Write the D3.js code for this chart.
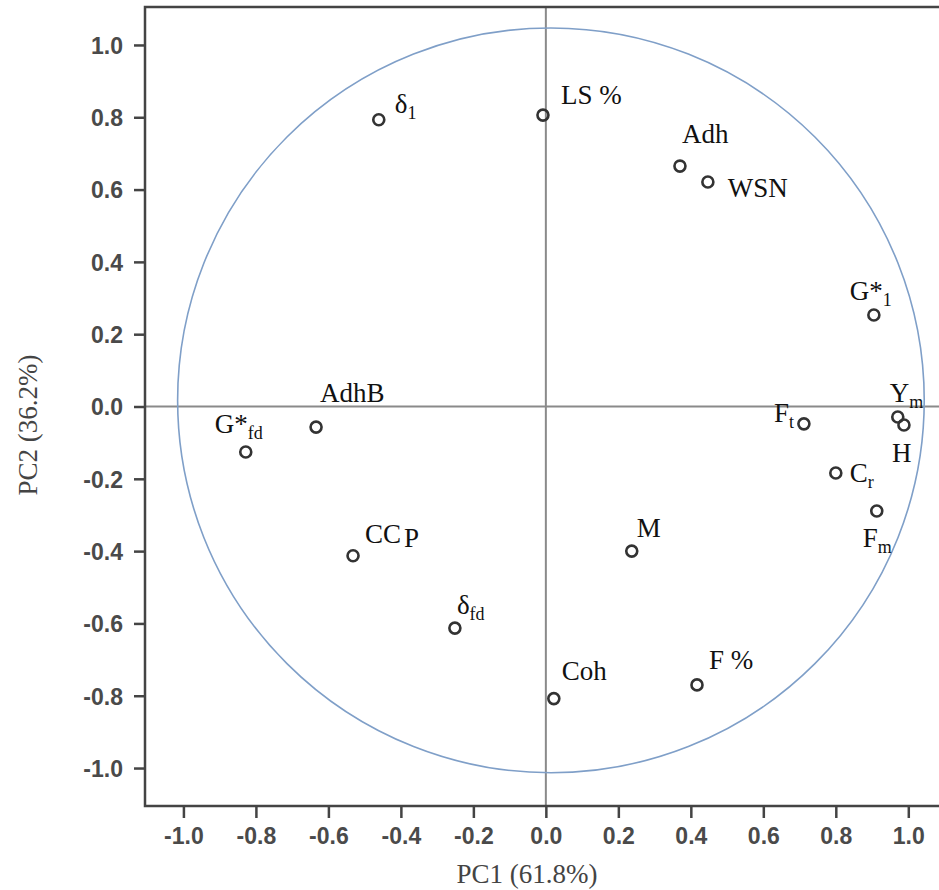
<!DOCTYPE html>
<html>
<head>
  <meta charset="utf-8">
  <script src="https://d3js.org/d3.v7.min.js"></script>
  <style>
    body { margin: 0; background: #fff; overflow: hidden; }
    svg { display: block; }
  </style>
</head>
<body>
  <svg id="chart"></svg>
  <script>

  // loadings
  const variables = ["δ1", "LS %", "Adh", "WSN", "G*1", "Ym", "H", "Ft", "Cr", "Fm",
                     "AdhB", "G*fd", "CCP", "δfd", "M", "Coh", "F %"];
  const pc1 = [-0.461, -0.008, 0.370, 0.447, 0.905, 0.971, 0.988, 0.712, 0.800, 0.913,
               -0.634, -0.828, -0.532, -0.251, 0.237, 0.022, 0.417];
  const pc2 = [0.793, 0.806, 0.665, 0.621, 0.253, -0.029, -0.051, -0.048, -0.184, -0.289,
               -0.057, -0.126, -0.413, -0.613, -0.400, -0.808, -0.770];

  // how each label is written: main text, subscript, trailing part
  const labelMain = ["δ", "LS %", "Adh", "WSN", "G*", "Y", "H", "F", "C", "F",
                     "AdhB", "G*", "CC", "δ", "M", "Coh", "F %"];
  const labelSub  = ["1", "", "", "", "1", "m", "", "t", "r", "m",
                     "", "fd", "", "fd", "", "", ""];
  const labelTail = ["", "", "", "", "", "", "", "", "", "",
                     "", "", "P", "", "", "", ""];

  const tickValues = [-1.0, -0.8, -0.6, -0.4, -0.2, 0.0, 0.2, 0.4, 0.6, 0.8, 1.0];
  const xTitle = "PC1 (61.8%)";
  const yTitle = "PC2 (36.2%)";

  // the drawn circle in the figure is a little off the unit circle
  const circleCenter = [0.014, 0.017];
  const circleRadius = 1.03;

  // label placement (pixels from the point)
  const labelOffset = {
    "δ1": [16, -7], "LS %": [18, -11], "Adh": [2, -23], "WSN": [20, 15],
    "G*1": [-24, -15], "Ym": [-8, -15], "H": [-12, 37], "Ft": [-30, -2],
    "Cr": [14, 9], "Fm": [-14, 36], "AdhB": [4, -25], "G*fd": [-31, -19],
    "CCP": [12, -13], "δfd": [2, -14], "M": [5, -14], "Coh": [8, -19], "F %": [12, -16]
  };

  const width = 939, height = 890;
  // right edge of the frame is cut off in the figure
  const frame = { left: 145, right: 942, top: 7, bottom: 806 };

  const svg = d3.select("#chart").attr("width", width).attr("height", height);

  const x = d3.scaleLinear().domain([-1.106, 1.093]).range([frame.left, frame.right]);
  const y = d3.scaleLinear().domain([-1.105, 1.105]).range([frame.bottom, frame.top]);

  const points = variables.map((v, i) => ({
    name: v, x: pc1[i], y: pc2[i],
    main: labelMain[i], sub: labelSub[i], tail: labelTail[i]
  }));

  // zero lines
  svg.append("line")
    .attr("x1", x(0)).attr("x2", x(0))
    .attr("y1", frame.top).attr("y2", frame.bottom)
    .attr("stroke", "#8a8a8a").attr("stroke-width", 2);
  svg.append("line")
    .attr("x1", frame.left).attr("x2", width)
    .attr("y1", y(0)).attr("y2", y(0))
    .attr("stroke", "#8a8a8a").attr("stroke-width", 2);

  // correlation circle
  svg.append("ellipse")
    .attr("cx", x(circleCenter[0]))
    .attr("cy", y(circleCenter[1]))
    .attr("rx", x(circleRadius) - x(0))
    .attr("ry", y(0) - y(circleRadius))
    .attr("fill", "none")
    .attr("stroke", "#7f9fc8")
    .attr("stroke-width", 1.6);

  // frame: top, left and bottom only
  svg.append("path")
    .attr("d", "M" + width + "," + frame.top + "H" + frame.left +
               "V" + frame.bottom + "H" + width)
    .attr("fill", "none")
    .attr("stroke", "#444")
    .attr("stroke-width", 2.5);

  // axes
  const fmt = d => d.toFixed(1);

  const xAxis = svg.append("g")
    .attr("transform", "translate(0," + frame.bottom + ")")
    .call(d3.axisBottom(x).tickValues(tickValues).tickFormat(fmt).tickSize(12).tickSizeOuter(0));
  const yAxis = svg.append("g")
    .attr("transform", "translate(" + frame.left + ",0)")
    .call(d3.axisLeft(y).tickValues(tickValues).tickFormat(fmt).tickSize(11).tickSizeOuter(0));

  [xAxis, yAxis].forEach(g => {
    g.select(".domain").remove();
    g.selectAll(".tick line").attr("stroke", "#444").attr("stroke-width", 2.5);
    g.selectAll(".tick text")
      .attr("fill", "#4a4a4a")
      .style("font-family", "'Liberation Sans', Arial, sans-serif")
      .style("font-weight", "bold")
      .style("font-size", "23px");
  });
  xAxis.selectAll(".tick text").attr("y", 22).attr("dy", "0.71em");
  yAxis.selectAll(".tick text").attr("x", -22).attr("dy", "0.36em");

  // axis titles
  svg.append("text")
    .attr("x", 527).attr("y", 883)
    .attr("text-anchor", "middle")
    .attr("fill", "#444")
    .style("font-family", "'Liberation Serif', 'Times New Roman', serif")
    .style("font-size", "27px")
    .text(xTitle);
  svg.append("text")
    .attr("transform", "translate(37,425) rotate(-90)")
    .attr("text-anchor", "middle")
    .attr("fill", "#444")
    .style("font-family", "'Liberation Serif', 'Times New Roman', serif")
    .style("font-size", "27px")
    .text(yTitle);

  // points
  svg.append("g")
    .selectAll("circle")
    .data(points)
    .join("circle")
    .attr("cx", d => x(d.x))
    .attr("cy", d => y(d.y))
    .attr("r", 5.5)
    .attr("fill", "none")
    .attr("stroke", "#333")
    .attr("stroke-width", 2.6);

  // labels
  const labels = svg.append("g")
    .selectAll("text")
    .data(points)
    .join("text")
    .attr("x", d => x(d.x) + labelOffset[d.name][0])
    .attr("y", d => y(d.y) + labelOffset[d.name][1])
    .attr("fill", "#111")
    .style("font-family", "'Liberation Serif', 'Times New Roman', serif")
    .style("font-size", "27px");

  labels.append("tspan").text(d => d.main);
  labels.filter(d => d.sub)
    .append("tspan")
    .attr("dy", 6)
    .style("font-size", "18px")
    .text(d => d.sub);
  labels.filter(d => d.tail)
    .append("tspan")
    .attr("dx", 3)
    .attr("dy", 4)
    .text(d => d.tail);

  </script>
</body>
</html>
